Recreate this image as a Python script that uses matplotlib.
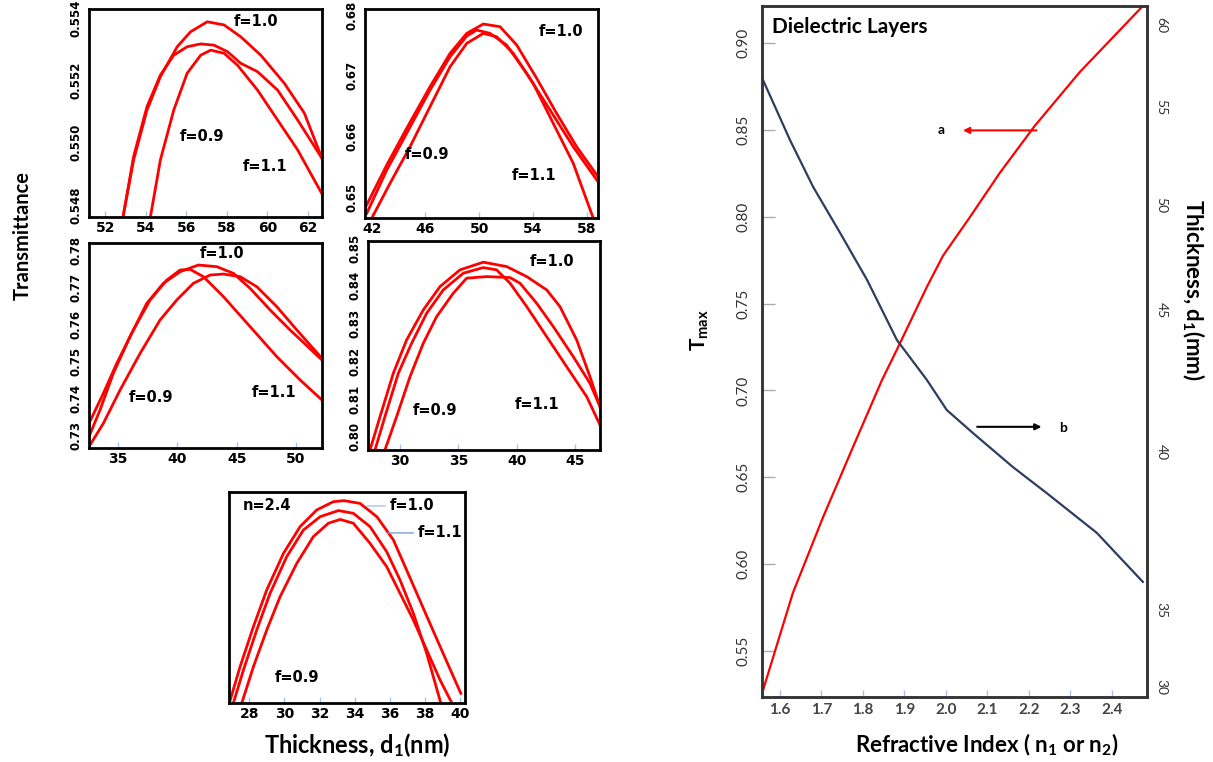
import numpy as np
import matplotlib
matplotlib.use('Agg')
import matplotlib.pyplot as plt

plt.rcParams['font.family'] = ['Lato', 'DejaVu Sans']
plt.rcParams['mathtext.fontset'] = 'custom'
plt.rcParams['mathtext.rm'] = 'Lato:bold'
plt.rcParams['mathtext.default'] = 'rm'

RED = '#ff0000'
NAVY = '#2c3d5f'
TICKBLUE = '#a9c1e8'

# ---------------- data ----------------
# panel 1 (top left)
p1_a_x = [52.88, 53.40, 54.06, 54.72, 55.55, 56.21, 57.03, 57.86, 58.68, 59.67, 60.83, 61.82, 62.69]
p1_a_y = [0.54763, 0.54945, 0.55105, 0.55212, 0.55308, 0.55356, 0.55388, 0.55378, 0.55340, 0.55281, 0.55191, 0.55095, 0.54950]
p1_b_x = [52.88, 53.40, 54.06, 54.72, 55.38, 56.04, 56.71, 57.37, 58.03, 58.68, 59.51, 60.50, 61.49, 62.69]
p1_b_y = [0.54763, 0.54956, 0.55116, 0.55217, 0.55281, 0.55308, 0.55317, 0.55313, 0.55292, 0.55255, 0.55228, 0.55169, 0.55073, 0.54950]
p1_c_x = [54.23, 54.72, 55.38, 56.04, 56.71, 57.20, 57.86, 58.52, 59.51, 60.50, 61.49, 62.69]
p1_c_y = [0.54763, 0.54945, 0.55105, 0.55223, 0.55281, 0.55297, 0.55287, 0.55249, 0.55169, 0.55073, 0.54977, 0.54836]

# panel 2 (top middle)
p2_a_x = [41.50, 43.12, 44.60, 46.34, 47.83, 49.07, 50.30, 51.55, 52.79, 54.28, 55.76, 57.25, 58.84]
p2_a_y = [0.64814, 0.65528, 0.66132, 0.66819, 0.67368, 0.67698, 0.67852, 0.67808, 0.67506, 0.66956, 0.66379, 0.65829, 0.65335]
p2_b_x = [41.63, 43.12, 44.60, 46.34, 47.83, 49.07, 49.81, 50.80, 52.04, 53.53, 55.27, 57.00, 58.84]
p2_b_y = [0.64731, 0.65445, 0.66050, 0.66764, 0.67313, 0.67654, 0.67753, 0.67698, 0.67506, 0.67038, 0.66434, 0.65829, 0.65253]
p2_c_x = [42.00, 43.36, 44.85, 46.34, 47.83, 49.07, 50.30, 51.30, 52.54, 54.02, 55.51, 57.00, 58.49]
p2_c_y = [0.64649, 0.65225, 0.65829, 0.66489, 0.67148, 0.67533, 0.67698, 0.67643, 0.67368, 0.66874, 0.66214, 0.65555, 0.64649]

# panel 3 (middle left)
p3_a_x = [32.55, 33.48, 34.60, 36.01, 37.42, 38.82, 40.23, 41.78, 43.33, 44.73, 46.14, 47.83, 49.51, 52.20]
p3_a_y = [0.72955, 0.73676, 0.74667, 0.75658, 0.76559, 0.77099, 0.77414, 0.77595, 0.77550, 0.77369, 0.76964, 0.76378, 0.75838, 0.75027]
p3_b_x = [32.55, 33.76, 34.89, 36.29, 37.70, 39.11, 40.23, 41.08, 42.20, 43.89, 46.14, 48.39, 50.36, 52.20]
p3_b_y = [0.73315, 0.74126, 0.74937, 0.75838, 0.76649, 0.77189, 0.77459, 0.77477, 0.77279, 0.76739, 0.75928, 0.75117, 0.74486, 0.73946]
p3_c_x = [32.55, 33.76, 35.17, 36.86, 38.54, 39.95, 41.35, 42.76, 43.89, 45.30, 46.70, 48.39, 50.08, 52.20]
p3_c_y = [0.72684, 0.73315, 0.74216, 0.75207, 0.76108, 0.76649, 0.77099, 0.77324, 0.77351, 0.77279, 0.77009, 0.76468, 0.75838, 0.75072]

# panel 4 (middle)
p4_a_x = [27.43, 28.29, 29.43, 30.57, 32.00, 33.43, 35.14, 37.14, 39.14, 40.86, 42.57, 43.71, 45.14, 46.28, 47.14]
p4_a_y = [0.79647, 0.80531, 0.81683, 0.82566, 0.83363, 0.83981, 0.84424, 0.84628, 0.84512, 0.84246, 0.83893, 0.83450, 0.82566, 0.81592, 0.80796]
p4_b_x = [27.86, 28.71, 29.86, 31.00, 32.29, 33.71, 35.43, 37.14, 38.28, 39.43, 40.86, 42.57, 44.28, 46.00, 47.14]
p4_b_y = [0.79647, 0.80531, 0.81683, 0.82479, 0.83275, 0.83893, 0.84337, 0.84485, 0.84424, 0.84071, 0.83450, 0.82654, 0.81858, 0.81062, 0.80310]
p4_c_x = [28.71, 29.71, 30.86, 32.00, 33.14, 34.57, 35.71, 37.43, 39.43, 40.28, 41.71, 43.14, 44.85, 46.28, 47.14]
p4_c_y = [0.79647, 0.80531, 0.81592, 0.82479, 0.83185, 0.83806, 0.84204, 0.84246, 0.84220, 0.84071, 0.83540, 0.82919, 0.82123, 0.81417, 0.80796]

# panel 5 (bottom, n=2.4, no transmittance scale shown)
p5_a_x = [26.86, 27.47, 28.23, 28.99, 29.94, 30.89, 31.84, 32.78, 33.39, 34.30, 35.26, 36.20, 37.15, 38.10, 39.05, 40.04]
p5_a_y = [0.0, 0.172, 0.362, 0.536, 0.709, 0.836, 0.915, 0.954, 0.959, 0.946, 0.883, 0.773, 0.593, 0.412, 0.232, 0.046]
p5_b_x = [27.09, 27.66, 28.42, 29.18, 30.13, 31.08, 32.03, 33.07, 33.92, 34.87, 35.82, 36.58, 37.34, 38.10, 38.90]
p5_b_y = [0.0, 0.156, 0.346, 0.520, 0.694, 0.820, 0.883, 0.912, 0.899, 0.836, 0.717, 0.583, 0.425, 0.235, 0.0]
p5_c_x = [27.57, 28.23, 28.99, 29.75, 30.70, 31.64, 32.50, 33.17, 33.92, 34.87, 35.82, 36.58, 37.34, 38.10, 38.86, 39.53]
p5_c_y = [0.0, 0.172, 0.346, 0.504, 0.662, 0.788, 0.852, 0.870, 0.852, 0.757, 0.646, 0.520, 0.393, 0.251, 0.109, 0.0]

# right panel: Tmax (a) and thickness (b) vs refractive index
n_a = [1.557, 1.631, 1.704, 1.776, 1.846, 1.884, 1.920, 1.954, 1.993, 2.058, 2.130, 2.214, 2.323, 2.475]
tmax_a = [0.5258, 0.5834, 0.6271, 0.6674, 0.7060, 0.7245, 0.7425, 0.7595, 0.7775, 0.7998, 0.8252, 0.8522, 0.8833, 0.9213]
n_b = [1.559, 1.624, 1.680, 1.745, 1.810, 1.882, 1.954, 2.002, 2.065, 2.161, 2.243, 2.364, 2.475]
thick_b = [56.65, 53.32, 50.92, 48.67, 46.43, 43.94, 42.54, 41.48, 40.67, 39.53, 38.70, 37.44, 35.89]

# right thickness axis of the original is not evenly spaced
thick_ticks = [29.35, 30, 35, 40, 45, 50, 55, 60, 61.16]
thick_frac = [0.0, 0.0145, 0.1259, 0.3546, 0.5601, 0.7120, 0.8538, 0.9725, 1.0]

# ---------------- figure ----------------
W, H = 1213, 762
fig = plt.figure(figsize=(W / 100, H / 100), dpi=100)


def px_box(l, t, r, b):
    return [l / W, 1 - b / H, (r - l) / W, (b - t) / H]


def small_panel(box, curves, xlim, ylim, xticks, yticks, yfmt, notes):
    ax = fig.add_axes(px_box(*box))
    for cx, cy in curves:
        ax.plot(cx, cy, color=RED, lw=2.0)
    ax.set_xlim(*xlim)
    ax.set_ylim(*ylim)
    ax.set_xticks(xticks)
    ax.set_xticklabels([str(v) for v in xticks], fontfamily='DejaVu Sans',
                       fontweight='bold', fontsize=10)
    if yticks:
        ax.set_yticks(yticks)
        ax.set_yticklabels([yfmt % v for v in yticks], fontfamily='DejaVu Sans',
                           fontweight='bold', fontsize=8.5, rotation=90, va='center')
    else:
        ax.set_yticks([])
    ax.tick_params(axis='x', direction='in', length=4, width=1, color=TICKBLUE, pad=3)
    ax.tick_params(axis='y', length=0, pad=5)
    for s in ax.spines.values():
        s.set_linewidth(2)
        s.set_color('black')
    for txt, fx, fy in notes:
        ax.text(fx, fy, txt, transform=ax.transAxes, ha='center', va='center',
                fontfamily='DejaVu Sans', fontweight='bold', fontsize=10.5)
    return ax


f_notes = lambda a, b, c: [('f=1.0',) + a, ('f=0.9',) + b, ('f=1.1',) + c]

small_panel((89, 9, 322, 217),
            [(p1_a_x, p1_a_y), (p1_b_x, p1_b_y), (p1_c_x, p1_c_y)],
            (51.2, 62.69), (0.54762, 0.55429),
            [52, 54, 56, 58, 60, 62], [0.548, 0.550, 0.552, 0.554], '%.3f',
            f_notes((0.717, 0.938), (0.485, 0.385), (0.755, 0.245)))

small_panel((365, 9, 598, 218),
            [(p2_a_x, p2_a_y), (p2_b_x, p2_b_y), (p2_c_x, p2_c_y)],
            (41.5, 58.84), (0.64654, 0.6810),
            [42, 46, 50, 54, 58], [0.65, 0.66, 0.67, 0.68], '%.2f',
            f_notes((0.841, 0.890), (0.266, 0.306), (0.725, 0.201)))

small_panel((89, 243, 322, 448),
            [(p3_a_x, p3_a_y), (p3_b_x, p3_b_y), (p3_c_x, p3_c_y)],
            (32.55, 52.2), (0.72649, 0.7819),
            [35, 40, 45, 50], [0.73, 0.74, 0.75, 0.76, 0.77, 0.78], '%.2f',
            f_notes((0.571, 0.951), (0.266, 0.244), (0.794, 0.273)))

small_panel((368, 241, 600, 450),
            [(p4_a_x, p4_a_y), (p4_b_x, p4_b_y), (p4_c_x, p4_c_y)],
            (27.26, 47.14), (0.79647, 0.8519),
            [30, 35, 40, 45], [0.80, 0.81, 0.82, 0.83, 0.84, 0.85], '%.2f',
            f_notes((0.793, 0.900), (0.289, 0.191), (0.728, 0.220)))

ax5 = small_panel((229, 492, 465, 703),
                  [(p5_a_x, p5_a_y), (p5_b_x, p5_b_y), (p5_c_x, p5_c_y)],
                  (26.84, 40.28), (0, 1),
                  [28, 30, 32, 34, 36, 38, 40], None, '%.2f',
                  [('n=2.4', 0.161, 0.934), ('f=0.9', 0.288, 0.123)])
ax5.annotate('f=1.0', xy=(0.585, 0.934), xytext=(0.775, 0.934), xycoords='axes fraction',
             textcoords='axes fraction', ha='center', va='center',
             fontfamily='DejaVu Sans', fontweight='bold', fontsize=10.5,
             arrowprops=dict(arrowstyle='-', color=TICKBLUE, lw=1, shrinkA=1, shrinkB=0))
ax5.annotate('f=1.1', xy=(0.674, 0.806), xytext=(0.894, 0.806), xycoords='axes fraction',
             textcoords='axes fraction', ha='center', va='center',
             fontfamily='DejaVu Sans', fontweight='bold', fontsize=10.5,
             arrowprops=dict(arrowstyle='-', color='#7f9fd6', lw=1, shrinkA=1, shrinkB=0))

# shared labels of the small panels
fig.text(23 / W, 1 - 236 / H, 'Transmittance', rotation=90, ha='center', va='center',
         fontsize=14.5, fontweight='bold')
fig.text(357 / W, 1 - 745 / H, 'Thickness, d$_1$(nm)', ha='center', va='center',
         fontsize=17, fontweight='bold')

# ---------------- right panel ----------------
axr = fig.add_axes(px_box(762, 6, 1147, 697))
axr.plot(n_a, tmax_a, color=RED, lw=1.6)
axr.set_xlim(1.5566, 2.485)
axr.set_ylim(0.5235, 0.9213)
n_ticks = [1.6, 1.7, 1.8, 1.9, 2.0, 2.1, 2.2, 2.3, 2.4]
t_ticks = [0.55, 0.60, 0.65, 0.70, 0.75, 0.80, 0.85, 0.90]
axr.set_xticks(n_ticks)
axr.set_xticklabels(['%.1f' % v for v in n_ticks], fontsize=11, fontweight='bold', color='#444444')
axr.set_yticks(t_ticks)
axr.set_yticklabels(['%.2f' % v for v in t_ticks], fontsize=11, color='#333333',
                    rotation=90, va='center')
axr.tick_params(axis='x', direction='in', length=5, width=1, color=TICKBLUE, pad=4)
axr.tick_params(axis='y', direction='in', length=9, width=1, color='#aaaaaa', pad=8)

axt = axr.twinx()
axt.set_yscale('function', functions=(lambda v: np.interp(v, thick_ticks, thick_frac),
                                      lambda f: np.interp(f, thick_frac, thick_ticks)))
axt.plot(n_b, thick_b, color=NAVY, lw=1.6)
axt.set_ylim(thick_ticks[0], thick_ticks[-1])
d_ticks = [30, 35, 40, 45, 50, 55, 60]
axt.set_yticks(d_ticks)
axt.set_yticklabels([str(v) for v in d_ticks], fontsize=10, color='#333333',
                    rotation=-90, va='center')
axt.tick_params(axis='y', length=0, pad=6)
axt.minorticks_off()

for a in (axr, axt):
    for s in a.spines.values():
        s.set_linewidth(1.8)
        s.set_color('#333333')

axr.text(0.026, 0.970, 'Dielectric Layers', transform=axr.transAxes, ha='left', va='center',
         fontsize=15, fontweight='bold')
axr.annotate('', xy=(0.522, 0.820), xytext=(0.713, 0.820), xycoords='axes fraction',
             arrowprops=dict(arrowstyle='-|>', color=RED, lw=1.5, mutation_scale=9,
                             shrinkA=0, shrinkB=0))
axr.text(0.464, 0.820, 'a', transform=axr.transAxes, ha='center', va='center',
         fontsize=10, fontweight='bold')
axr.annotate('', xy=(0.726, 0.391), xytext=(0.559, 0.391), xycoords='axes fraction',
             arrowprops=dict(arrowstyle='-|>', color='black', lw=1.5, mutation_scale=9,
                             shrinkA=0, shrinkB=0))
axr.text(0.783, 0.389, 'b', transform=axr.transAxes, ha='center', va='center',
         fontsize=10, fontweight='bold')

fig.text(700 / W, 1 - 330 / H, 'T$_{max}$', rotation=90, ha='center', va='center',
         fontsize=15, fontweight='bold')
fig.text(1193 / W, 1 - 290 / H, 'Thickness, d$_1$(mm)', rotation=-90, ha='center',
         va='center', fontsize=16, fontweight='bold')
fig.text(987 / W, 1 - 745 / H, 'Refractive Index ( n$_1$ or n$_2$)', ha='center', va='center',
         fontsize=16, fontweight='bold')

fig.savefig('out.png', dpi=100)
